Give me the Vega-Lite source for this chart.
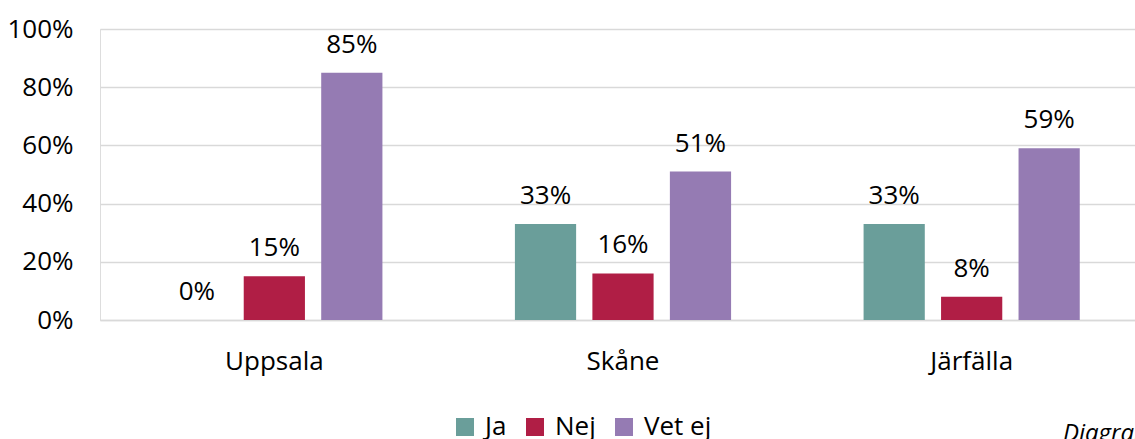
{
  "$schema": "https://vega.github.io/schema/vega-lite/v6.json",
  "autosize": {"type": "none"},
  "width": 1035,
  "height": 291,
  "padding": {"left": 100, "top": 29, "right": 0, "bottom": 119},
  "data": {"values": [
    {"region": "Uppsala", "svar": "Ja", "andel": 0.0},
    {"region": "Uppsala", "svar": "Nej", "andel": 0.15},
    {"region": "Uppsala", "svar": "Vet ej", "andel": 0.85},
    {"region": "Skåne", "svar": "Ja", "andel": 0.33},
    {"region": "Skåne", "svar": "Nej", "andel": 0.16},
    {"region": "Skåne", "svar": "Vet ej", "andel": 0.51},
    {"region": "Järfälla", "svar": "Ja", "andel": 0.33},
    {"region": "Järfälla", "svar": "Nej", "andel": 0.08},
    {"region": "Järfälla", "svar": "Vet ej", "andel": 0.59}
  ]},
  "title": {"text": "Diagram", "orient": "bottom", "anchor": "start", "dx": 1056, "offset": -18, "fontStyle": "italic", "fontWeight": "normal", "fontSize": 24, "font": "Open Sans", "color": "#000000"},
  "encoding": {
    "x": {"field": "region", "type": "nominal", "sort": ["Uppsala", "Skåne", "Järfälla"],
      "scale": {"range": [0, 1046], "paddingInner": 0.38, "paddingOuter": 0.19},
      "axis": {"title": null, "labelAngle": 0, "labelFontSize": 26, "labelFont": "Open Sans", "labelColor": "#000000", "ticks": false, "domain": true, "domainColor": "#D9D9D9", "domainWidth": 1.5, "labelPadding": 28}},
    "xOffset": {"field": "svar", "type": "nominal", "sort": ["Ja", "Nej", "Vet ej"], "scale": {"paddingInner": 0.21, "paddingOuter": 0}},
    "y": {"field": "andel", "type": "quantitative",
      "scale": {"domain": [0, 1]},
      "axis": {"title": null, "format": ".0%", "values": [0, 0.2, 0.4, 0.6, 0.8, 1], "labelFontSize": 26, "labelFont": "Open Sans", "labelColor": "#000000", "ticks": false, "domain": false, "gridColor": "#D9D9D9", "gridWidth": 1.5, "labelPadding": 27}}
  },
  "layer": [
    {"mark": {"type": "bar"},
     "encoding": {"color": {"field": "svar", "type": "nominal", "sort": ["Ja", "Nej", "Vet ej"],
       "scale": {"domain": ["Ja", "Nej", "Vet ej"], "range": ["#6A9E9A", "#B01E45", "#957BB3"]},
       "legend": {"title": null, "orient": "none", "legendX": 352, "legendY": 385, "direction": "horizontal", "symbolType": "square", "symbolSize": 324, "symbolStrokeWidth": 0, "symbolOpacity": 1, "labelFontSize": 26, "labelFont": "Open Sans", "labelColor": "#000000", "columnPadding": 15, "labelOffset": 7, "padding": 0}}}},
    {"mark": {"type": "text", "baseline": "alphabetic", "dy": -20, "fontSize": 26, "font": "Open Sans", "color": "#000000"},
     "encoding": {"text": {"field": "andel", "type": "quantitative", "format": ".0%"}}}
  ]
}
